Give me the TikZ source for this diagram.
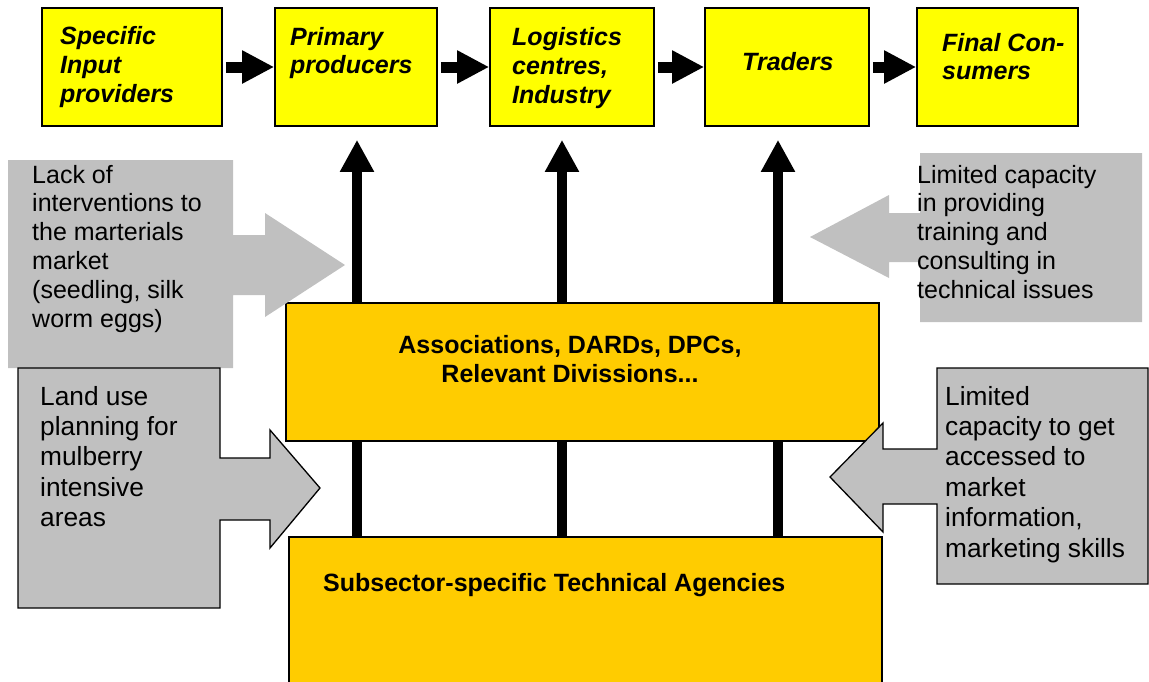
\documentclass[tikz,border=0pt]{standalone}
\usepackage{fontspec}
\setmainfont{Liberation Sans}
\usetikzlibrary{arrows.meta}
\definecolor{chainyellow}{HTML}{FFFF00}
\definecolor{agencyorange}{HTML}{FFCC00}
\definecolor{issuegrey}{HTML}{C0C0C0}
\tikzset{
  chainbox/.style={draw,line width=1.6pt,fill=chainyellow,minimum height=118pt,inner sep=0pt},
  agencybox/.style={draw,line width=1.3pt,fill=agencyorange,inner sep=0pt},
  issue/.style={fill=issuegrey},
  issueline/.style={fill=issuegrey,draw,line width=1.3pt,line join=miter},
  flowarrow/.style={line width=11pt,shorten <=3pt,-{Triangle[length=32pt,width=31pt]}},
  uparrow/.style={line width=10pt,shorten >=13pt,-{Triangle[length=32pt,width=32pt]}},
  chaintext/.style={anchor=base west,align=left,inner sep=0pt,font=\fontsize{25}{28.6}\selectfont\bfseries\itshape},
  agencytext/.style={inner sep=0pt,font=\fontsize{25}{29}\selectfont\bfseries},
  issuetext/.style={anchor=base west,align=left,inner sep=0pt,font=\fontsize{25}{28.8}\selectfont},
  issuetextbig/.style={anchor=base west,align=left,inner sep=0pt,font=\fontsize{26.3}{30.4}\selectfont}
}
\begin{document}
\begin{tikzpicture}[x=1pt,y=-1pt]
\useasboundingbox (0,0) rectangle (1149,681);
\clip (0,0) rectangle (1149,681);
\fill[white] (0,0) rectangle (1149,681);

%The value chain - boxes left to right
\foreach \n/\x/\w in {inp/132/180,pri/356/162,log/572/164,tra/787/164,fin/997.5/161}
  \node[chainbox,minimum width=\w pt] (\n) at (\x,67) {};
%Texts sit on the baseline of their last line
\foreach \n/\x/\y/\t in {inp/60/102/{Specific\\Input\\providers},pri/290/73.6/{Primary\\producers},log/512/103/{Logistics\\centres,\\Industry},tra/742/70/{Traders},fin/942/79.6/{Final Con-\\sumers}}
  \node[chaintext] (\n-txt) at (\x,\y) {\t};
\foreach \a/\b in {inp/pri,pri/log,log/tra,tra/fin}
  \draw[flowarrow] (\a.east) -- (\b.west);

%Agencies at the bottom and the support arrows
\node[agencybox,minimum width=593pt,minimum height=163pt] (ag) at (585.5,618.5) {};
\node[agencytext,anchor=base west] (ag-txt) at (323,591) {Subsector-specific Technical Agencies};
\foreach \x/\n in {357/pri,562/log,778/tra}
  \draw[uparrow] (ag.north -| \x,0) -- (\n.south -| \x,0);

%Associations box on top of the arrows
\node[agencybox,minimum width=593pt,minimum height=138pt] (as) at (582.5,372) {};
\node[agencytext,anchor=base,align=center] (as-txt) at (570,382) {Associations, DARDs, DPCs,\\Relevant Divissions...};

%Issues - grey callouts
\fill[issue] (8,160) -- (233,160) -- (233,235) -- (265,235) -- (265,213) -- (345,265) -- (265,317) -- (265,295) -- (233,295) -- (233,368) -- (8,368) -- cycle;
\draw[issueline] (18,368) -- (220,368) -- (220,458) -- (270,458) -- (270,430) -- (320,488) -- (270,548) -- (270,520) -- (220,520) -- (220,608) -- (18,608) -- cycle;
\fill[issue] (920,153) -- (1142,153) -- (1142,322) -- (920,322) -- (920,262) -- (889,262) -- (889,278) -- (810,237) -- (889,195) -- (889,213) -- (920,213) -- cycle;
\draw[issueline] (937,368) -- (1148,368) -- (1148,584) -- (937,584) -- (937,504) -- (883,504) -- (883,532) -- (830,477) -- (883,423) -- (883,449) -- (937,449) -- cycle;

\node[issuetext] (lack) at (32,327) {Lack of\\interventions to\\the marterials\\market\\(seedling, silk\\worm eggs)};
\node[issuetextbig] (land) at (40,526.6) {Land use\\planning for\\mulberry\\intensive\\areas};
\node[issuetext] (train) at (917,298.2) {Limited capacity\\in providing\\training and\\consulting in\\technical issues};
\node[issuetextbig] (mkt) at (945,557) {Limited\\capacity to get\\accessed to\\market\\information,\\marketing skills};

\end{tikzpicture}
\end{document}
